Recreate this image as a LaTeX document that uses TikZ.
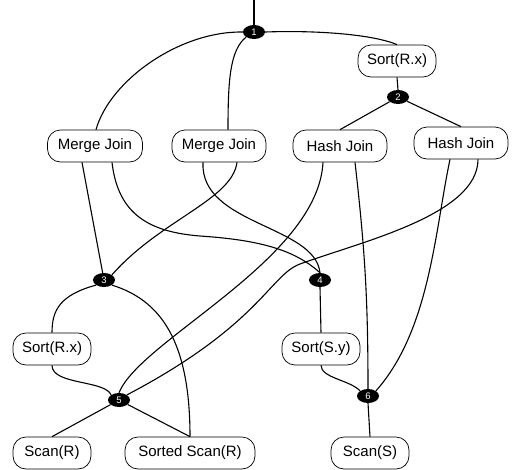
\documentclass[tikz,border=0pt]{standalone}
\usepackage{fontspec}
\setmainfont{Liberation Sans}
\usetikzlibrary{shapes.geometric,calc}
\begin{document}
\begin{tikzpicture}[x=1pt,y=-1pt,
  opbox/.style={draw,rounded corners=13pt,minimum height=32pt,inner sep=0pt,font=\fontsize{15}{17}\selectfont,line width=0.7pt},
  dot/.style={ellipse,fill=black,minimum width=22pt,minimum height=14pt,inner sep=0pt,text=white,font=\fontsize{9.5}{10}\selectfont},
  edge/.style={line width=1.1pt}]
\useasboundingbox (0,0) rectangle (514,469);
% nodes
\node[dot] (n1) at (254,32) {1};
\node[opbox,minimum width=78pt] (sortrx) at (397,61) {Sort(R.x)};
\node[dot] (n2) at (398,97) {2};
\node[opbox,minimum width=95pt] (mj1) at (95,146) {Merge Join};
\node[opbox,minimum width=94pt] (mj2) at (219,146) {Merge Join};
\node[opbox,minimum width=94pt] (hj1) at (340,146) {Hash Join};
\node[opbox,minimum width=94pt] (hj2) at (461,143) {Hash Join};
\node[dot] (n3) at (104,280) {3};
\node[dot] (n4) at (320,280) {4};
\node[opbox,minimum width=78pt] (sortrxb) at (52,349) {Sort(R.x)};
\node[opbox,minimum width=78pt] (sortsy) at (321,349) {Sort(S.y)};
\node[dot] (n5) at (119,400) {5};
\node[dot] (n6) at (368,396) {6};
\node[opbox,minimum width=78pt] (scanr) at (52,453) {Scan(R)};
\node[opbox,minimum width=130pt] (sscanr) at (190,453) {Sorted Scan(R)};
\node[opbox,minimum width=78pt] (scans) at (370,453) {Scan(S)};
\coordinate (top) at (254,0);
% edges
\draw[edge] (top) -- (n1.north);
\draw[edge] (n1.west) .. controls (180,31) and (110,80) .. ([xshift=1pt]mj1.north);
\draw[edge] (n1.south west) .. controls (230,50) and (228,80) .. ([xshift=9pt]mj2.north);
\draw[edge] (n1.east) .. controls (320,30) and (375,35) .. (sortrx.north);
\draw[edge] (sortrx.south) -- (n2.north);
\draw[edge] (n2) -- (hj1.north);
\draw[edge] (n2) -- (hj2.north);
\draw[edge] ([xshift=-13pt]mj1.south) -- (n3);
\draw[edge] ([xshift=17pt]mj1.south) .. controls (118,215) and (150,232) .. (200,236) .. controls (260,240) and (295,250) .. (n4.north);
\draw[edge] ([xshift=18pt]mj2.south) .. controls (232,200) and (160,220) .. (n3.north east);
\draw[edge] ([xshift=-16pt]mj2.south) .. controls (200,225) and (315,225) .. (n4.north);
\draw[edge] ([xshift=-17pt]hj1.south) .. controls (318,260) and (140,340) .. (n5.north);
\draw[edge] ([xshift=15pt]hj1.south) .. controls (365,250) and (368,300) .. (n6.north);
\draw[edge] ([xshift=17pt]hj2.south) .. controls (478,215) and (360,242) .. (300,264) .. controls (270,275) and (260,325) .. (n5.north east);
\draw[edge] ([xshift=-11pt]hj2.south) .. controls (435,230) and (430,330) .. (n6.north east);
\draw[edge] (n3.south west) .. controls (60,295) and (52,310) .. (sortrxb.north);
\draw[edge] (n3.south east) .. controls (160,300) and (190,340) .. (sscanr.north);
\draw[edge] (n4.south) -- (sortsy.north);
\draw[edge] (sortrxb.south) .. controls (52,385) and (105,380) .. (n5.north west);
\draw[edge] (sortsy.south) .. controls (321,378) and (350,380) .. (n6.north west);
\draw[edge] (n5) -- (scanr.north);
\draw[edge] (n5) -- (sscanr.north);
\draw[edge] (n6.south) -- (scans.north);
\end{tikzpicture}
\end{document}
